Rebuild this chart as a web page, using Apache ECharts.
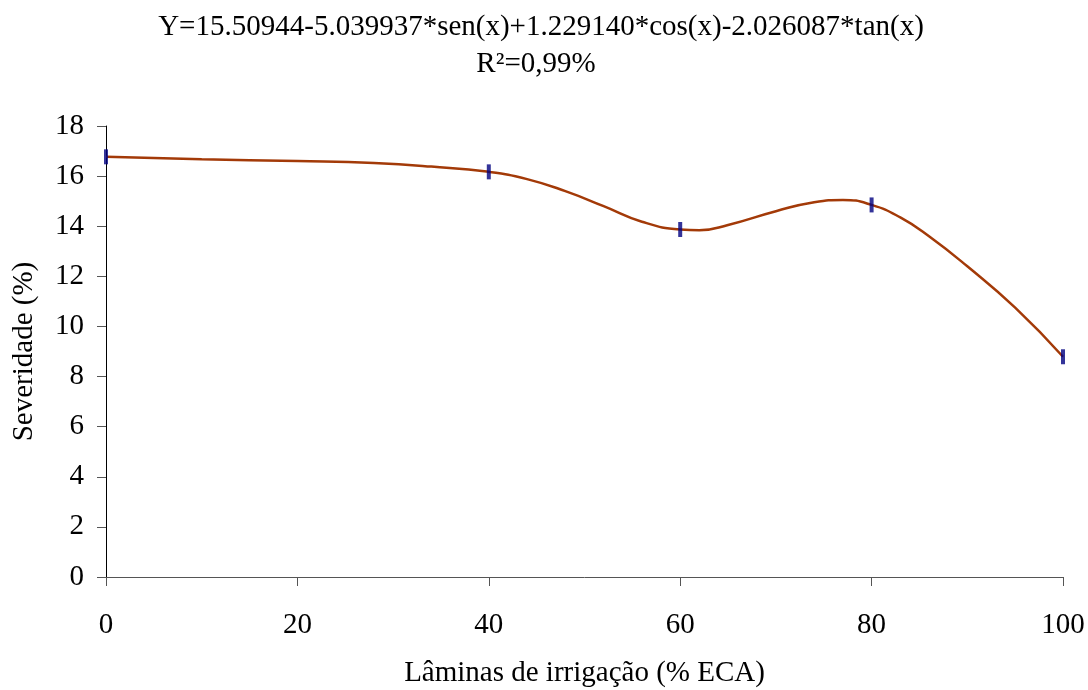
<!DOCTYPE html>
<html>
<head>
<meta charset="utf-8">
<script src="https://cdn.jsdelivr.net/npm/echarts@6/dist/echarts.min.js"></script>
<style>html,body{margin:0;padding:0;background:#fff}#c{width:1088px;height:690px}</style>
</head>
<body>
<div id="c"></div>
<script>
var titleLine1 = 'Y=15.50944-5.039937*sen(x)+1.229140*cos(x)-2.026087*tan(x)';
var titleLine2 = 'R\u00B2=0,99%';
var xName = 'Lâminas de irrigação (% ECA)';
var yName = 'Severidade (%)';
var xTicks = [0, 20, 40, 60, 80, 100];
var yTicks = [0, 2, 4, 6, 8, 10, 12, 14, 16, 18];

// observed points (vertical dash markers)
var obsX = [0, 40, 60, 80, 100];
var obsY = [16.77, 16.17, 13.87, 14.85, 8.79];

// fitted curve
var curveX = [0, 10, 20, 28, 34, 40, 44, 48, 52, 56, 60, 62, 65, 70, 74, 77, 80, 83, 86, 90, 95, 100];
var curveY = [16.77, 16.67, 16.6, 16.52, 16.38, 16.17, 15.88, 15.4, 14.8, 14.18, 13.87, 13.84, 14.05, 14.6, 14.96, 15.05, 14.85, 14.35, 13.6, 12.4, 10.75, 8.79];

var font = '"Liberation Serif", "Times New Roman", serif';
var fs = 29;
var chart = echarts.init(document.getElementById('c'));
chart.setOption({
  backgroundColor: '#fff',
  animation: false,
  title: [
    {text: titleLine1, left: 536, top: 8, textAlign: 'center',
     textStyle: {fontFamily: font, fontSize: fs, fontWeight: 'normal', color: '#000'}},
    {text: titleLine2, left: 531, top: 45, textAlign: 'center',
     textStyle: {fontFamily: font, fontSize: fs, fontWeight: 'normal', color: '#000'}}
  ],
  grid: {left: 106, right: 25, top: 126, bottom: 113, containLabel: false, outerBoundsMode: 'none'},
  xAxis: {
    type: 'value', min: 0, max: 100, interval: 20,
    name: xName, nameLocation: 'middle', nameGap: 82,
    nameTextStyle: {fontFamily: font, fontSize: fs, color: '#000'},
    axisLine: {lineStyle: {color: '#555', width: 1}},
    axisTick: {show: true, length: 9, lineStyle: {color: '#555'}},
    axisLabel: {fontFamily: font, fontSize: fs, color: '#000', margin: 34,
      formatter: function (v) { return xTicks.indexOf(v) >= 0 ? String(v) : ''; }},
    splitLine: {show: false}
  },
  yAxis: {
    type: 'value', min: 0, max: 18, interval: 2,
    name: yName, nameLocation: 'middle', nameGap: 67,
    nameTextStyle: {fontFamily: font, fontSize: fs, color: '#000'},
    axisLine: {show: true, lineStyle: {color: '#000', width: 1}},
    axisTick: {show: true, length: 9, lineStyle: {color: '#555'}},
    axisLabel: {fontFamily: font, fontSize: fs, color: '#000', margin: 22,
      formatter: function (v) { return yTicks.indexOf(v) >= 0 ? String(v) : ''; }},
    splitLine: {show: false}
  },
  series: [
    {type: 'line', smooth: 0.5, showSymbol: false, symbol: 'none',
     data: curveX.map(function (x, i) { return [x, curveY[i]]; }),
     lineStyle: {color: '#A33A08', width: 2.5}, z: 2},
    {type: 'scatter', symbol: 'rect', symbolSize: [4, 15],
     data: obsX.map(function (x, i) { return [x, obsY[i]]; }),
     itemStyle: {color: '#000080'}, z: 3}
  ]
});
</script>
</body>
</html>
